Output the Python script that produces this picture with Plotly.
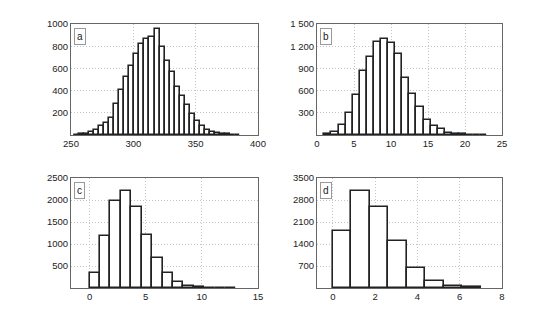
import plotly.graph_objects as go

# ---- data ----
a_counts = [3, 5, 8, 25, 45, 81, 111, 156, 279, 402, 520, 619, 733, 820, 862, 880, 952,
            790, 670, 570, 435, 351, 270, 186, 129, 81, 45, 30, 15, 8, 5, 3, 2]
a_range = (252.5, 385.5)
b_counts = [10, 36, 140, 297, 540, 865, 1050, 1260, 1300, 1250, 1090, 775, 560, 385,
            205, 118, 78, 33, 14, 8, 4, 2, 1]
b_range = (1, 23)
c_counts = [330, 1175, 1980, 2205, 1850, 1200, 675, 330, 140, 48, 15, 6, 3, 1]
c_range = (0, 13)
d_counts = [1820, 3090, 2590, 1500, 640, 230, 70, 20]
d_range = (0, 7)

labels = ["a", "b", "c", "d"]
x_ranges = [[250, 400], [0, 25], [-1.65, 15], [-0.75, 8]]
x_ticks = [[250, 300, 350, 400], [0, 5, 10, 15, 20, 25], [0, 5, 10, 15], [0, 2, 4, 6, 8]]
y_ranges = [[0, 1000], [0, 1500], [0, 2500], [0, 3500]]
y_ticks = [[200, 400, 600, 800, 1000], [300, 600, 900, 1200, 1500],
           [500, 1000, 1500, 2000, 2500], [700, 1400, 2100, 2800, 3500]]
y_ticktext = [["200", "400", "600", "800", "1000"], ["300", "600", "900", "1 200", "1 500"],
              ["500", "1000", "1500", "2000", "2500"], ["700", "1400", "2100", "2800", "3500"]]

OFF = 8  # page body margin in the browser
W, H = 554 - OFF, 325 - OFF
# pixel boxes in window coordinates (left, right, top, bottom)
boxes = [(71, 258, 24, 135), (317, 502, 24, 135), (71, 258, 178, 288), (317, 502, 178, 288)]

fig = go.Figure()
font = dict(family="Liberation Sans, Arial, sans-serif", size=9.5, color="#222")

for i, (counts, rng) in enumerate(zip([a_counts, b_counts, c_counts, d_counts],
                                      [a_range, b_range, c_range, d_range])):
    n = len(counts)
    w = (rng[1] - rng[0]) / n
    centers = [rng[0] + w * (k + 0.5) for k in range(n)]
    suf = "" if i == 0 else str(i + 1)
    fig.add_trace(go.Bar(x=centers, y=counts, width=[w] * n,
                         marker=dict(color="white", line=dict(color="#222", width=1.6)),
                         xaxis="x" + suf, yaxis="y" + suf, showlegend=False))
    l, r, t, b = [v - OFF for v in boxes[i]]
    axcommon = dict(showline=True, mirror=True, linecolor="#666", linewidth=1,
                    showgrid=True, gridcolor="#c4c4c4", griddash="1px,2px", gridwidth=1,
                    zeroline=False, ticks="", tickfont=font, automargin=False)
    fig.layout["xaxis" + suf] = dict(domain=[l / W, r / W], anchor="y" + suf,
                                     range=x_ranges[i], tickvals=x_ticks[i], **axcommon)
    fig.layout["yaxis" + suf] = dict(domain=[1 - b / H, 1 - t / H], anchor="x" + suf,
                                     range=y_ranges[i], tickvals=y_ticks[i],
                                     ticktext=y_ticktext[i], **axcommon)
    fig.add_annotation(text=labels[i], xref=("x" + suf) + " domain", yref=("y" + suf) + " domain",
                       x=0.018, y=0.96, xanchor="left", yanchor="top", showarrow=False,
                       font=dict(family="Liberation Sans, Arial, sans-serif", size=10, color="#222"),
                       bordercolor="#999", borderwidth=1, borderpad=2, bgcolor="white")

fig.update_layout(width=W, height=H, margin=dict(l=0, r=0, t=0, b=0),
                  paper_bgcolor="white", plot_bgcolor="white", bargap=0)
fig.write_html("out.html")
